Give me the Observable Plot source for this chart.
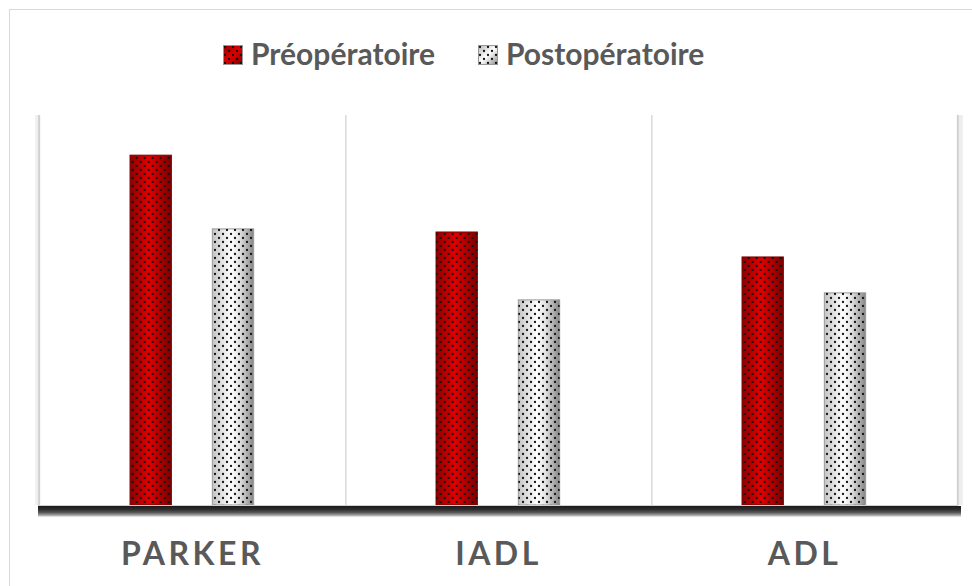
<!DOCTYPE html>
<html><head><meta charset="utf-8">
<script src="https://cdn.jsdelivr.net/npm/d3@7"></script>
<script src="https://cdn.jsdelivr.net/npm/@observablehq/plot@0.6"></script>
<style>
body{margin:0;background:#fff;font-family:Lato,"Open Sans",sans-serif;}
#wrap{position:relative;width:972px;height:586px;overflow:hidden;background:#fff;}
#border{position:absolute;left:9px;top:9px;width:1000px;height:600px;border:1px solid #d9d9d9;}
#legend{position:absolute;top:0;left:0;width:972px;height:100px;}
.sw{position:absolute;top:45px;width:20px;height:20px;}
.lt{position:absolute;top:38px;font-weight:700;font-size:30px;line-height:30px;color:#595959;white-space:nowrap;}
#chart{position:absolute;left:0;top:100px;}
</style></head><body>
<div id="wrap"><div id="border"></div><div id="legend"></div><div id="chart"></div></div>
<script>
const categories = ["PARKER", "IADL", "ADL"];
const series = ["Préopératoire", "Postopératoire"];
const preValues = [89.7, 70.0, 63.6];
const postValues = [70.8, 52.6, 54.4];

const preData = categories.map((c, i) => ({category: c, series: series[0], value: preValues[i]}));
const postData = categories.map((c, i) => ({category: c, series: series[1], value: postValues[i]}));

const W = 972, H = 486;
const mL = 38, mR = 14, mT = 15, mB = 81;
const band = (W - mL - mR) / categories.length;
const barW = 42;
const inset = (band - barW) / 2;
const bandDepth = 12;

const defs = `
<linearGradient id="gRed" x1="0" x2="1" y1="0" y2="0">
  <stop offset="0" stop-color="#8e0000"/>
  <stop offset="0.45" stop-color="#e00000"/>
  <stop offset="0.6" stop-color="#c80000"/>
  <stop offset="1" stop-color="#7a0000"/>
</linearGradient>
<linearGradient id="gGray" x1="0" x2="1" y1="0" y2="0">
  <stop offset="0" stop-color="#c4c4c4"/>
  <stop offset="0.45" stop-color="#ffffff"/>
  <stop offset="0.65" stop-color="#e4e4e4"/>
  <stop offset="1" stop-color="#858585"/>
</linearGradient>
<pattern id="dots" patternUnits="userSpaceOnUse" width="8" height="8">
  <circle cx="2" cy="2" r="1.15" fill="#111"/>
  <circle cx="6" cy="6" r="1.15" fill="#111"/>
</pattern>`;

function bars(data, dx, grad, stroke) {
  return [
    Plot.barY(data, {x: "category", y: "value", fill: grad, dx, insetLeft: inset, insetRight: inset, stroke, strokeWidth: 1}),
    Plot.barY(data, {x: "category", y: "value", fill: "url(#dots)", dx, insetLeft: inset, insetRight: inset})
  ];
}

const svg = Plot.plot({
  width: W, height: H,
  marginLeft: mL, marginRight: mR, marginTop: mT, marginBottom: mB,
  style: {background: "transparent", color: "#595959", fontFamily: "Lato, 'Open Sans', sans-serif", letterSpacing: "3.5px", overflow: "visible"},
  x: {domain: categories, padding: 0, axis: null},
  y: {domain: [0, 100], axis: null},
  marks: [
    Plot.ruleX(categories.slice(0, 2), {x: d => d, dx: band / 2, stroke: "#d9d9d9", strokeWidth: 1.5}),
    Plot.ruleX([categories[0]], {x: d => d, dx: -band / 2 - 2, stroke: "#f0f0f0", strokeWidth: 4}),
    Plot.ruleX([categories[0]], {x: d => d, dx: -band / 2, stroke: "#d0d0d0", strokeWidth: 2}),
    Plot.ruleX([categories[2]], {x: d => d, dx: band / 2 + 3, stroke: "#eeeeee", strokeWidth: 4}),
    Plot.ruleX([categories[2]], {x: d => d, dx: band / 2, stroke: "#d0d0d0", strokeWidth: 2}),
    ...bars(preData, -41.3, "url(#gRed)", "#7a0000"),
    ...bars(postData, 41, "url(#gGray)", "#9a9a9a"),
    Plot.ruleY([0], {stroke: "url(#gBand)", strokeWidth: bandDepth, dy: bandDepth / 2 + 0.5, insetRight: -3}),
    Plot.ruleY([0], {stroke: "#d0d0d0", strokeWidth: 1}),
    Plot.axisX({tickSize: 0, tickPadding: 37, fontSize: 32, fontWeight: "bold", label: null})
  ]
});
const y0 = svg.scale("y").apply(0);
d3.select(svg).insert("defs", ":first-child").html(defs + `
<linearGradient id="gBand" gradientUnits="userSpaceOnUse" x1="0" x2="0" y1="${y0 - bandDepth / 2}" y2="${y0 + bandDepth / 2}">
  <stop offset="0" stop-color="#1a1a1a"/>
  <stop offset="0.3" stop-color="#2e2e2e"/>
  <stop offset="0.55" stop-color="#5a5a5a"/>
  <stop offset="0.8" stop-color="#b0b0b0"/>
  <stop offset="1" stop-color="#ffffff" stop-opacity="0"/>
</linearGradient>`);
document.getElementById("chart").appendChild(svg);

// legend
const legend = document.getElementById("legend");
const legendItems = [
  {label: series[0], swLeft: 223, textLeft: 251, grad: "gRed2", c: ["#8e0000", "#e00000", "#7a0000"]},
  {label: series[1], swLeft: 478, textLeft: 506, grad: "gGray2", c: ["#b8b8b8", "#ffffff", "#8a8a8a"]}
];
legendItems.forEach(it => {
  const sw = document.createElement("div");
  sw.className = "sw";
  sw.style.left = it.swLeft + "px";
  sw.innerHTML = `<svg width="20" height="20"><defs><linearGradient id="${it.grad}" x1="0" x2="1" y1="0" y2="1"><stop offset="0" stop-color="${it.c[0]}"/><stop offset="0.5" stop-color="${it.c[1]}"/><stop offset="1" stop-color="${it.c[2]}"/></linearGradient></defs><rect x="0.5" y="0.5" width="19" height="19" fill="url(#${it.grad})" stroke="#999"/><rect x="0.5" y="0.5" width="19" height="19" fill="url(#dots)"/></svg>`;
  legend.appendChild(sw);
  const t = document.createElement("div");
  t.className = "lt";
  t.style.left = it.textLeft + "px";
  t.textContent = it.label;
  legend.appendChild(t);
});
</script>
</body></html>
